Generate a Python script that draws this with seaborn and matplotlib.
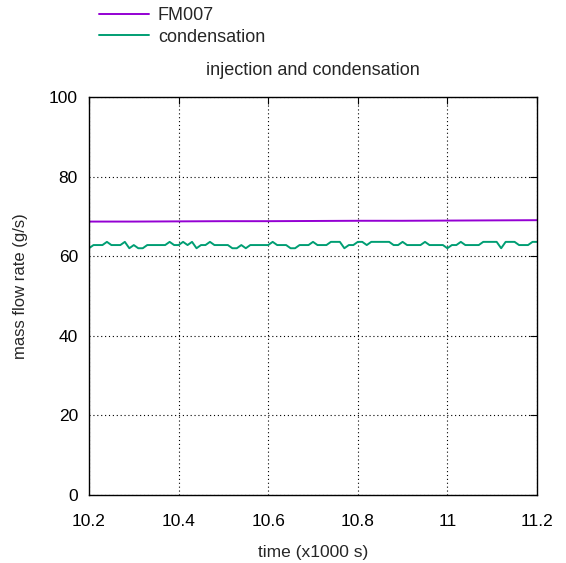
import numpy as np
import pandas as pd
import matplotlib
matplotlib.use("Agg")
import matplotlib.pyplot as plt
import seaborn as sns

# time in x1000 s
fm_time = [10.2, 10.3, 10.4, 10.5, 10.6, 10.7, 10.8, 10.9, 11.0, 11.1, 11.2]
fm_flow = [68.7, 68.7, 68.75, 68.8, 68.8, 68.85, 68.9, 68.9, 68.95, 69.0, 69.05]

T, M, L = 63.6, 62.8, 62.0
cond_levels = [
    L, M, M, M, T, M, M, M, T, L,
    M, L, L, M, M, M, M, M, T, M,
    M, T, M, T, L, M, M, T, M, M,
    M, M, L, L, M, L, M, M, M, M,
    M, T, M, M, M, L, L, M, M, M,
    T, M, M, M, T, T, T, L, M, M,
    T, T, M, T, T, T, T, T, M, M,
    T, M, M, M, M, T, M, M, M, M,
    L, M, M, T, M, M, M, M, T, T,
    T, T, L, T, T, T, M, M, M, T,
    T,
]
cond_time = [10.2 + 0.01 * i for i in range(len(cond_levels))]

df_fm = pd.DataFrame({"time": fm_time, "flow": fm_flow})
df_c = pd.DataFrame({"time": cond_time, "flow": cond_levels})

sns.set_style("white")
plt.rcParams["font.family"] = ["Liberation Sans", "DejaVu Sans"]

fig = plt.figure(figsize=(5.66, 5.63), dpi=100)
ax = fig.add_axes([89 / 566, 68 / 563, 448 / 566, 398 / 563])

sns.lineplot(data=df_fm, x="time", y="flow", ax=ax, color="#9400D3", lw=1.4, label="FM007")
sns.lineplot(data=df_c, x="time", y="flow", ax=ax, color="#009E73", lw=1.4, label="condensation")

ax.set_xlim(10.2, 11.2)
ax.set_ylim(0, 100)
ax.set_xticks([10.2, 10.4, 10.6, 10.8, 11.0, 11.2])
ax.set_xticklabels(["10.2", "10.4", "10.6", "10.8", "11", "11.2"])
ax.set_yticks([0, 20, 40, 60, 80, 100])
ax.grid(True, color="black", linestyle=(0, (1, 2.5)), linewidth=0.8)
for s in ax.spines.values():
    s.set_color("black")
    s.set_linewidth(1.0)
ax.tick_params(axis="y", direction="in", length=5, width=0.8, right=True,
               labelsize=12.5, pad=8, colors="black")
ax.tick_params(axis="x", direction="in", length=5, width=0.8, top=True,
               labelsize=12.5, pad=14, colors="black")
ax.set_xlabel("time (x1000 s)", fontsize=12.5, labelpad=11)
ax.set_ylabel("mass flow rate (g/s)", fontsize=12, labelpad=15)
ax.yaxis.label.set_y(0.526)
ax.set_title("injection and condensation", fontsize=13, pad=16)

handles, labels = ax.get_legend_handles_labels()
ax.legend(handles, labels, loc="upper left", bbox_to_anchor=(91.5 / 566, 1.0),
          bbox_transform=fig.transFigure, frameon=False, fontsize=13,
          handlelength=2.77, handletextpad=0.5, labelspacing=0.25, borderaxespad=0.0)

fig.savefig("out.png", dpi=100)
